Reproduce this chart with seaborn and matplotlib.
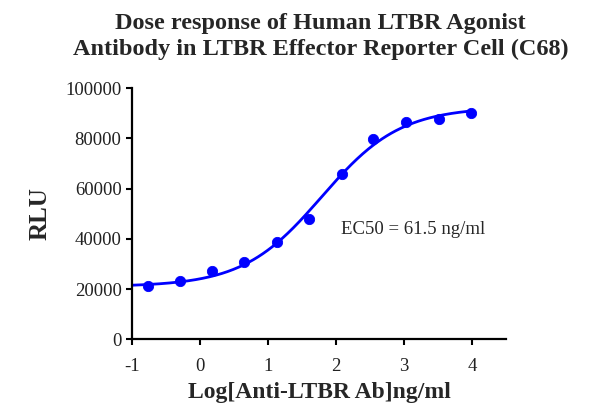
import numpy as np
import pandas as pd
import matplotlib
matplotlib.use("Agg")
import matplotlib.pyplot as plt
import seaborn as sns

# measured points (log10 concentration, RLU)
log_conc = [-0.77, -0.30, 0.18, 0.65, 1.13, 1.60, 2.09, 2.55, 3.03, 3.51, 3.99]
rlu = [21200, 23200, 27400, 30800, 38700, 48100, 65900, 79600, 86600, 87800, 90200]

# 4PL fit parameters
bottom = 21000
top = 92500
log_ec50 = np.log10(61.5)
hill = 0.75

title = "Dose response of Human LTBR Agonist\nAntibody in LTBR Effector Reporter Cell (C68)"
x_label = "Log[Anti-LTBR Ab]ng/ml"
y_label = "RLU"
x_ticks = [-1, 0, 1, 2, 3, 4]
y_ticks = [0, 20000, 40000, 60000, 80000, 100000]

sns.set_theme(style="ticks")
plt.rcParams['font.family'] = ['Liberation Serif', 'DejaVu Serif']

pts = pd.DataFrame({"x": log_conc, "y": rlu})
xs = np.linspace(-1, 4, 300)
fit = pd.DataFrame({"x": xs, "y": bottom + (top - bottom) / (1 + 10 ** (hill * (log_ec50 - xs)))})

fig = plt.figure(figsize=(6.14, 4.18), dpi=100)
ax = fig.add_axes([0.215, 0.188, 0.609, 0.601])

blue = "#0000ff"
sns.lineplot(data=fit, x="x", y="y", ax=ax, color=blue, linewidth=2.0)
sns.scatterplot(data=pts, x="x", y="y", ax=ax, color=blue, s=55, edgecolor=blue, zorder=3)

ax.set_xlim(-1, 4.5)
ax.set_ylim(0, 100000)
ax.set_xticks(x_ticks)
ax.set_yticks(y_ticks)
ax.set_xticklabels([str(t) for t in x_ticks], fontsize=13.5)
ax.set_yticklabels([str(t) for t in y_ticks], fontsize=13.5)
ax.tick_params(width=1.5, length=4.5, color="black", labelcolor="#222222")
ax.tick_params(axis="x", pad=9)
ax.tick_params(axis="y", pad=3)
for side in ["left", "bottom"]:
    ax.spines[side].set_linewidth(1.6)
    ax.spines[side].set_color("black")
sns.despine(ax=ax)

ax.set_xlabel(x_label, fontsize=17, fontweight="bold", labelpad=5)
ax.set_ylabel(y_label, fontsize=18, fontweight="bold", labelpad=10)
ax.text(2.07, 43600, "EC50 = 61.5 ng/ml", fontsize=13.5, va="center", ha="left")
fig.suptitle(title, fontsize=17.5, fontweight="bold", x=0.522, y=0.97, linespacing=1.3)

fig.savefig("out.png", dpi=100)
